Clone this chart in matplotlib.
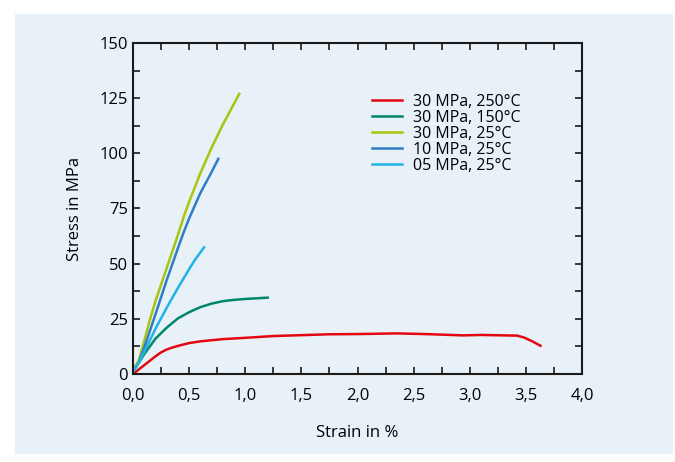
import matplotlib
matplotlib.use('Agg')
from matplotlib import pyplot as plt
from matplotlib.patches import Rectangle
from matplotlib.ticker import MultipleLocator, FuncFormatter

plt.rcParams['font.family'] = ['Open Sans', 'DejaVu Sans']

# Daten
labels = ['30 MPa, 250°C', '30 MPa, 150°C', '30 MPa, 25°C', '10 MPa, 25°C', '05 MPa, 25°C']
colors = ['#e30613', '#00876a', '#a9c40f', '#2f7dc4', '#1fb4e6']

strain_250 = [0, 0.05, 0.1, 0.15, 0.2, 0.25, 0.3, 0.35, 0.42, 0.5, 0.6, 0.7, 0.8, 1.0, 1.25, 1.5, 1.75, 2.0, 2.35, 2.6, 2.94, 3.1, 3.3, 3.42, 3.48, 3.55, 3.63]
stress_250 = [0, 2.0, 4.0, 6.0, 8.0, 9.8, 11.1, 12.0, 13.0, 14.0, 14.8, 15.3, 15.8, 16.4, 17.2, 17.6, 18.0, 18.1, 18.4, 18.1, 17.5, 17.7, 17.5, 17.4, 16.6, 15.0, 12.8]

strain_150 = [0, 0.05, 0.1, 0.2, 0.3, 0.4, 0.5, 0.6, 0.7, 0.8, 0.9, 1.0, 1.1, 1.2]
stress_150 = [1.5, 5.0, 9.0, 16.0, 21.0, 25.2, 28.0, 30.3, 31.9, 33.0, 33.6, 34.0, 34.3, 34.6]

strain_25_30 = [0, 0.05, 0.1, 0.15, 0.2, 0.3, 0.4, 0.45, 0.5, 0.6, 0.7, 0.8, 0.9, 0.947]
stress_25_30 = [2.0, 6.0, 15.0, 24.5, 33.0, 48.0, 63.0, 71.0, 78.0, 91.0, 102.5, 113.0, 122.5, 127.0]

strain_25_10 = [0, 0.05, 0.1, 0.2, 0.3, 0.4, 0.45, 0.5, 0.6, 0.7, 0.76]
stress_25_10 = [1.0, 5.0, 12.0, 27.0, 42.5, 57.0, 64.0, 70.5, 82.0, 91.5, 97.5]

strain_25_05 = [0, 0.05, 0.1, 0.2, 0.3, 0.4, 0.5, 0.55, 0.633]
stress_25_05 = [1.0, 5.0, 10.0, 20.5, 30.0, 39.0, 47.5, 51.6, 57.4]

strains = [strain_250, strain_150, strain_25_30, strain_25_10, strain_25_05]
stresses = [stress_250, stress_150, stress_25_30, stress_25_10, stress_25_05]

fig = plt.figure(figsize=(6.75, 4.62), dpi=100)
bg = Rectangle((15 / 675, 9 / 462), 657 / 675, 439 / 462,
               transform=fig.transFigure, color='#e8f1f7', zorder=-5)
fig.add_artist(bg)

ax = fig.add_axes([133 / 675, 88 / 462, 449 / 675, 331 / 462])
ax.set_facecolor('none')

for x, y, c, lab in zip(strains, stresses, colors, labels):
    ax.plot(x, y, color=c, lw=1.8, label=lab)

ax.set_xlim(0, 4)
ax.set_ylim(0, 150)
ax.xaxis.set_major_locator(MultipleLocator(0.5))
ax.xaxis.set_minor_locator(MultipleLocator(0.25))
ax.yaxis.set_major_locator(MultipleLocator(25))
ax.yaxis.set_minor_locator(MultipleLocator(12.5))
ax.xaxis.set_major_formatter(FuncFormatter(lambda v, p: f'{v:.1f}'.replace('.', ',')))
ax.tick_params(which='both', direction='in', top=True, right=True,
               length=5, width=1.2, labelsize=12, color='#1a1a1a')
ax.tick_params(axis='x', pad=10)
for s in ax.spines.values():
    s.set_linewidth(1.5)
    s.set_color('#1a1a1a')

ax.set_xlabel('Strain in %', fontsize=12, labelpad=15)
ax.set_ylabel('Stress in MPa', fontsize=12, labelpad=12)

ax.legend(loc='upper left', bbox_to_anchor=(0.5, 0.89), frameon=False,
          fontsize=11.5, handlelength=1.9, handletextpad=0.7, labelspacing=0.0)

plt.savefig('out.png', dpi=100)
